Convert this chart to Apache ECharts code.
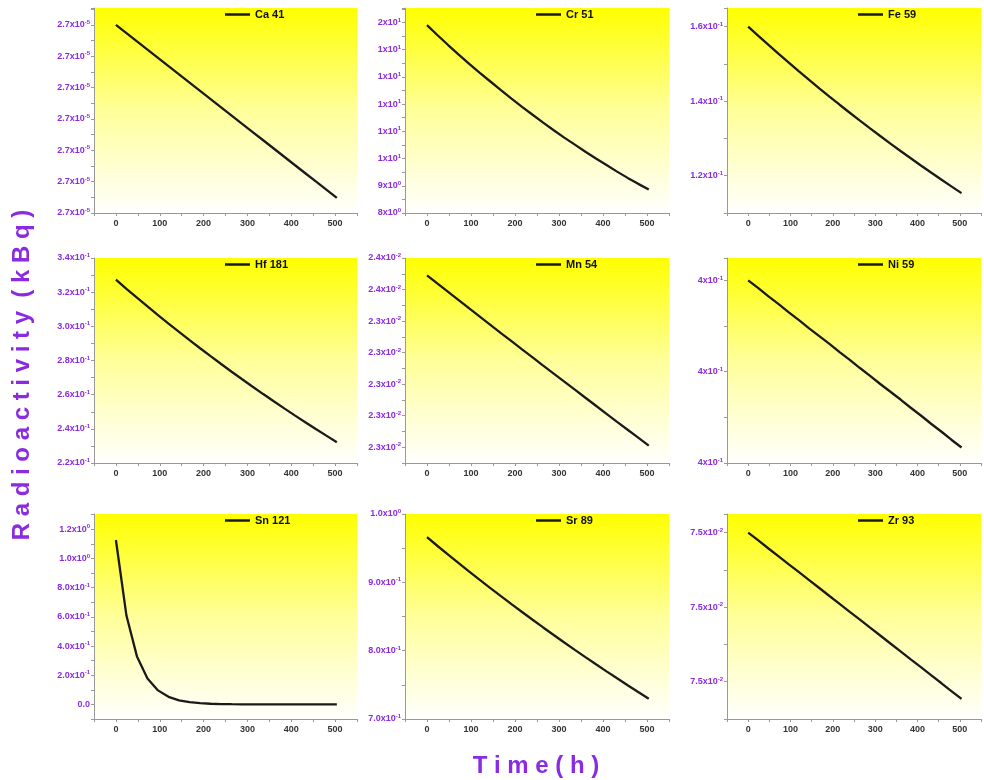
<!DOCTYPE html>
<html><head><meta charset="utf-8">
<script src="https://cdn.jsdelivr.net/npm/echarts@6/dist/echarts.min.js"></script>
<style>html,body{margin:0;padding:0;background:#fff}#c{width:984px;height:780px}</style>
</head><body><div id="c"></div>
<script>
// ---------------- data ----------------
const times = [0,24,48,72,96,120,144,168,192,216,240,264,288,312,336,360,384,408,432,456,480,504];
const names = ['Ca 41','Cr 51','Fe 59','Hf 181','Mn 54','Ni 59','Sn 121','Sr 89','Zr 93'];

const ca41 = [2.72000e-5,2.71737e-5,2.71474e-5,2.71211e-5,2.70949e-5,2.70686e-5,2.70423e-5,2.70160e-5,2.69897e-5,2.69634e-5,2.69371e-5,2.69109e-5,2.68846e-5,2.68583e-5,2.68320e-5,2.68057e-5,2.67794e-5,2.67531e-5,2.67269e-5,2.67006e-5,2.66743e-5,2.66480e-5];
const cr51 = [14.90,14.53,14.17,13.82,13.48,13.15,12.83,12.51,12.20,11.90,11.61,11.32,11.04,10.77,10.51,10.25,10.00,9.76,9.52,9.29,9.07,8.86];
const fe59 = [0.16000,0.15753,0.15509,0.15269,0.15033,0.14800,0.14571,0.14346,0.14124,0.13905,0.13690,0.13479,0.13270,0.13065,0.12863,0.12664,0.12468,0.12275,0.12085,0.11898,0.11714,0.11533];
const hf181 = [0.3273,0.32199,0.31677,0.31164,0.30658,0.30161,0.29672,0.29191,0.28718,0.28252,0.27794,0.27343,0.26900,0.26464,0.26035,0.25613,0.25197,0.24789,0.24387,0.23991,0.23602,0.23220];
const mn54 = [0.023690,0.023637,0.023585,0.023533,0.023480,0.023428,0.023376,0.023324,0.023273,0.023221,0.023170,0.023118,0.023067,0.023016,0.022965,0.022914,0.022863,0.022812,0.022761,0.022711,0.022661,0.022610];
const ni59 = [0.40200,0.40183,0.40165,0.40148,0.40130,0.40113,0.40095,0.40078,0.40061,0.40043,0.40026,0.40008,0.39991,0.39973,0.39956,0.39939,0.39921,0.39904,0.39886,0.39869,0.39851,0.39834];
const sn121 = [1.127,0.609,0.3291,0.1779,0.0961,0.0519,0.0281,0.0152,0.0082,0.0044,0.0024,0.0013,0.0007,0.0004,0.0002,0.0001,0.00006,0.00003,0.00002,0.00001,0.000005,0.000003];
const sr89 = [0.9660,0.95318,0.94053,0.92805,0.91574,0.90358,0.89159,0.87976,0.86809,0.85657,0.84520,0.83399,0.82292,0.81200,0.80122,0.79059,0.78010,0.76975,0.75953,0.74945,0.73951,0.72970];
const zr93 = [0.075400,0.075358,0.075315,0.075273,0.075230,0.075188,0.075145,0.075103,0.075060,0.075018,0.074975,0.074933,0.074890,0.074848,0.074805,0.074763,0.074720,0.074678,0.074635,0.074593,0.074550,0.074508];

// y-axis tick labels, one entry per tick from the axis minimum ('' = unlabelled tick)
const caTicks = ['2.7x10^-5','','2.7x10^-5','','2.7x10^-5','','2.7x10^-5','','2.7x10^-5','','2.7x10^-5','','2.7x10^-5'];
const crTicks = ['8x10^0','','9x10^0','','1x10^1','','1x10^1','','1x10^1','','1x10^1','','1x10^1','','2x10^1'];
const feTicks = ['','1.2x10^-1','','1.4x10^-1','','1.6x10^-1'];
const hfTicks = ['2.2x10^-1','','2.4x10^-1','','2.6x10^-1','','2.8x10^-1','','3.0x10^-1','','3.2x10^-1','','3.4x10^-1'];
const mnTicks = ['','2.3x10^-2','','2.3x10^-2','','2.3x10^-2','','2.3x10^-2','','2.3x10^-2','','2.4x10^-2','','2.4x10^-2'];
const niTicks = ['4x10^-1','','4x10^-1','','4x10^-1'];
const snTicks = ['','0.0','','2.0x10^-1','','4.0x10^-1','','6.0x10^-1','','8.0x10^-1','','1.0x10^0','','1.2x10^0'];
const srTicks = ['7.0x10^-1','','8.0x10^-1','','9.0x10^-1','','1.0x10^0'];
const zrTicks = ['','7.5x10^-2','','7.5x10^-2','','7.5x10^-2'];
const xTickLabels = [0,100,200,300,400,500];

// y scale extents: [min, max, tick step]
const yScales = [
  [2.66e-5, 2.7254e-5, 5e-8],
  [8, 15.53, 0.5],
  [0.11, 0.165, 0.01],
  [0.22, 0.34, 0.01],
  [0.0225, 0.0238, 0.0001],
  [0.398, 0.40249, 0.001],
  [-0.1, 1.305, 0.1],
  [0.7, 1.0, 0.05],
  [0.0744, 0.0755, 0.0002]
];
const seriesValues = [ca41, cr51, fe59, hf181, mn54, ni59, sn121, sr89, zr93];
const tickLabels = [caTicks, crTicks, feTicks, hfTicks, mnTicks, niTicks, snTicks, srTicks, zrTicks];

// ---------------- layout / style ----------------
const colLeft = [94, 405, 727], colWidth = [263, 264, 264];
const rowTop = [8, 258, 514], rowHeight = [205, 205, 205];
const purple = '#8A2BE2';
const font = 'Arial, "Liberation Sans", Helvetica, sans-serif';

function yFmt(min, step, labels) {
  return function (v) {
    const k = (v - min) / step, i = Math.round(k);
    if (Math.abs(k - i) > 0.05) return '';
    const s = labels[i];
    if (!s) return '';
    const p = s.split('^');
    return p.length > 1 ? '{m|' + p[0] + '}{e|' + p[1] + '}' : '{m|' + p[0] + '}';
  };
}

const grid = [], xAxis = [], yAxis = [], series = [], legend = [];
names.forEach((name, i) => {
  const r = Math.floor(i / 3), c = i % 3;
  const [ymin, ymax, ystep] = yScales[i];
  grid.push({
    left: colLeft[c], top: rowTop[r], width: colWidth[c], height: rowHeight[r],
    show: true, borderWidth: 0,
    backgroundColor: new echarts.graphic.LinearGradient(0, 0, 0, 1, [
      { offset: 0, color: '#FFFF00' }, { offset: 0.5, color: '#FFFF9A' }, { offset: 1, color: '#FFFFFF' }
    ])
  });
  xAxis.push({
    gridIndex: i, type: 'value', min: -50, max: 550, interval: 50,
    axisLine: { show: true, onZero: false, lineStyle: { color: '#999', width: 1 } },
    axisTick: { show: true, inside: false, length: 3, lineStyle: { color: '#999' } },
    splitLine: { show: false },
    axisLabel: {
      margin: 6, fontSize: 9, fontWeight: 'bold', color: '#333', fontFamily: font,
      formatter: v => (xTickLabels.indexOf(v) >= 0 ? String(v) : '')
    }
  });
  yAxis.push({
    gridIndex: i, type: 'value', min: ymin, max: ymax, interval: ystep,
    axisLine: { show: true, onZero: false, lineStyle: { color: '#999', width: 1 } },
    axisTick: { show: true, inside: false, length: 3, lineStyle: { color: '#999' } },
    splitLine: { show: false },
    axisLabel: {
      margin: 4, formatter: yFmt(ymin, ystep, tickLabels[i]),
      rich: {
        m: { fontSize: 9, fontWeight: 'bold', color: purple, fontFamily: font, lineHeight: 11 },
        e: { fontSize: 6, fontWeight: 'bold', color: purple, fontFamily: font, verticalAlign: 'top', lineHeight: 7 }
      }
    }
  });
  series.push({
    name: name, type: 'line', xAxisIndex: i, yAxisIndex: i,
    data: times.map((t, k) => [t, seriesValues[i][k]]),
    showSymbol: false, symbol: 'none',
    lineStyle: { color: '#1a1a1a', width: 2.3 }, itemStyle: { color: '#1a1a1a' }
  });
  legend.push({
    data: [name], left: colLeft[c] + 131, top: rowTop[r] + 1, padding: 0,
    icon: 'rect', itemWidth: 25, itemHeight: 2.5, itemGap: 3,
    textStyle: { fontSize: 11, fontWeight: 'bold', color: '#111', fontFamily: font }
  });
});

const chart = echarts.init(document.getElementById('c'), null, { renderer: 'canvas' });
chart.setOption({
  animation: false,
  backgroundColor: '#fff',
  grid, xAxis, yAxis, series, legend,
  graphic: [
    { type: 'text', x: 22, y: 375, rotation: Math.PI / 2,
      style: { text: 'R a d i o a c t i v i t y  ( k B q )', fill: purple, font: 'bold 24px ' + font, align: 'center', verticalAlign: 'middle' } },
    { type: 'text', x: 536, y: 766,
      style: { text: 'T i m e ( h )', fill: purple, font: 'bold 24px ' + font, align: 'center', verticalAlign: 'middle' } }
  ]
});
</script></body></html>
